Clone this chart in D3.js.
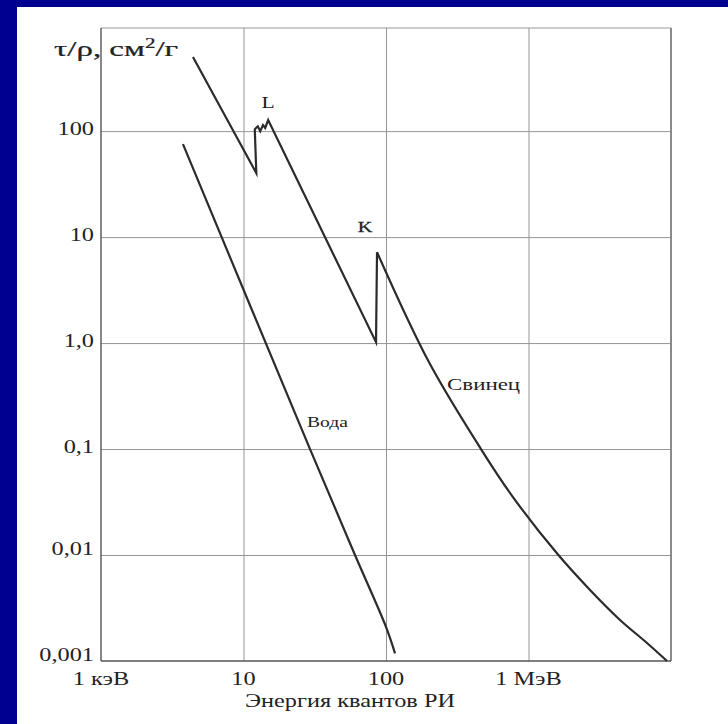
<!DOCTYPE html>
<html>
<head>
<meta charset="utf-8">
<script src="https://cdn.jsdelivr.net/npm/d3@7"></script>
<style>
  body { margin: 0; background: #000090; }
  svg { display: block; }
  .grid line { stroke: #959595; stroke-width: 1; }
  .grid path { display: none; }
</style>
</head>
<body>
<svg id="chart" width="728" height="724"></svg>
<script>
// Data
const xTicks = [1, 10, 100, 1000];
const xTickLabels = ["1 кэВ", "10", "100", "1 МэВ"];
const yTicks = [0.001, 0.01, 0.1, 1, 10, 100];
const yTickLabels = ["0,001", "0,01", "0,1", "1,0", "10", "100"];

// Свинец (lead): L-edge zigzag, K-edge jump, then smooth tail
const leadEnergy = [4.42, 12.3, 12.0, 12.6, 13.1, 13.7, 14.2, 14.9, 85.1, 86.5,
  200, 464, 778, 1610, 2702, 4387, 6785, 9376];
const leadValue = [500, 40.2, 104, 111, 100, 114, 107, 127, 1.02, 7.2,
  0.662, 0.1, 0.0352, 0.0101, 0.00468, 0.00244, 0.00148, 0.001];
const kEdgeIndex = 9;

// Вода (water)
const waterEnergy = [3.76, 29.3, 60.6, 100, 115.7];
const waterValue = [75.4, 0.1, 0.01, 0.0021, 0.00118];

// Scanned picture is stretched sideways, so text is too
const SX = 1.35;
const FONT = "'Liberation Serif', 'Times New Roman', serif";

const svg = d3.select("#chart");

// Background and white sheet
svg.append("rect").attr("width", 728).attr("height", 724).attr("fill", "#000090");
svg.append("rect").attr("x", 17).attr("y", 7).attr("width", 711).attr("height", 717).attr("fill", "#fff");

const x = d3.scaleLog().domain([1, 10000]).range([101, 671]);
const y = d3.scaleLog().domain([0.001, 940]).range([661, 28]);
const [x0, x1] = x.range();
const [y0, y1] = y.range();

// Grid lines via axes (no labels, those are drawn stretched below)
svg.append("g")
  .attr("class", "grid")
  .attr("transform", `translate(0,${y0})`)
  .call(d3.axisBottom(x).tickValues([10, 100, 1000]).tickSize(-(y0 - y1)).tickFormat(""));
svg.append("g")
  .attr("class", "grid")
  .attr("transform", `translate(${x0},0)`)
  .call(d3.axisLeft(y).tickValues([0.01, 0.1, 1, 10, 100]).tickSize(-(x1 - x0)).tickFormat(""));

// Frame
svg.append("line").attr("x1", x0).attr("x2", x1).attr("y1", y1).attr("y2", y1)
  .attr("stroke", "#999").attr("stroke-width", 1.2);
svg.append("line").attr("x1", x1).attr("x2", x1).attr("y1", y1).attr("y2", y0)
  .attr("stroke", "#8a8a8a").attr("stroke-width", 2);
svg.append("line").attr("x1", x0).attr("x2", x0).attr("y1", y1).attr("y2", y0)
  .attr("stroke", "#555").attr("stroke-width", 1.4);
svg.append("line").attr("x1", x0).attr("x2", x1).attr("y1", y0).attr("y2", y0)
  .attr("stroke", "#555").attr("stroke-width", 1.4);

// Text placed with sideways stretch
function label(px, py, str, size, anchor, sx, heavy) {
  return svg.append("text")
    .attr("transform", `translate(${px},${py}) scale(${sx || SX},1)`)
    .attr("text-anchor", anchor || "start")
    .attr("fill", "#222")
    .attr("stroke", heavy ? "#222" : "none")
    .attr("stroke-width", heavy ? 0.25 : 0)
    .style("font-family", FONT)
    .style("font-size", size + "px")
    .text(str);
}

yTicks.forEach((t, i) => {
  const dy = t >= 0.1 ? 4 : 0;
  label(x0 - 7, y(t) + dy, yTickLabels[i], 18, "end");
});
xTicks.forEach((t, i) => {
  label(x(t), 685, xTickLabels[i], 18, "middle");
});

// Axis titles
const yTitle = label(54, 56, "τ/ρ, см", 22, "start", 1.5, true);
yTitle.append("tspan").attr("dy", -8).style("font-size", "14px").text("2");
yTitle.append("tspan").attr("dy", 8).text("/г");
label(350, 707, "Энергия квантов РИ", 18, "middle");

// Curves
const lead = leadEnergy.map((e, i) => [e, leadValue[i]]);
const water = waterEnergy.map((e, i) => [e, waterValue[i]]);

const straight = d3.line().x((d) => x(d[0])).y((d) => y(d[1]));
const smooth = d3.line().x((d) => x(d[0])).y((d) => y(d[1])).curve(d3.curveCatmullRom.alpha(0.5));

const curveStyle = (p) => p.attr("fill", "none").attr("stroke", "#2b2b2b")
  .attr("stroke-width", 2.2).attr("stroke-linejoin", "miter").attr("stroke-miterlimit", 6);

svg.append("path").attr("d", straight(lead.slice(0, kEdgeIndex + 1))).call(curveStyle);
svg.append("path").attr("d", smooth(lead.slice(kEdgeIndex))).call(curveStyle);
svg.append("path").attr("d", smooth(water)).call(curveStyle);

// Curve labels
label(268, 108, "L", 16, "middle");
label(365, 232, "K", 15, "middle", SX, true);
label(307, 427, "Вода", 14.5, "start");
label(447, 390, "Свинец", 17, "start");
</script>
</body>
</html>
